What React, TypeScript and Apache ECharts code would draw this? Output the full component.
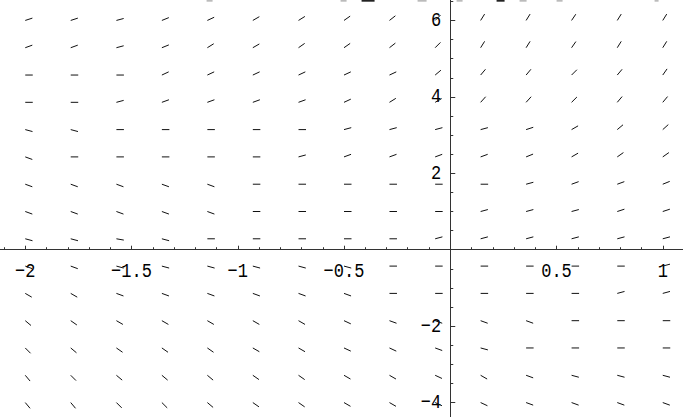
import React, { useEffect, useRef } from "react";
import * as echarts from "echarts";

// grid of sample points (x columns, y rows)
const xColumns = [-2, -1.786, -1.571, -1.357, -1.143, -0.929, -0.714, -0.5, -0.286, -0.071, 0.143, 0.357, 0.571, 0.786, 1];
const yRows = [6, 5.286, 4.571, 3.857, 3.143, 2.429, 1.714, 1, 0.286, -0.429, -1.143, -1.857, -2.571, -3.286, -4];

// on-screen direction (degrees) of each segment, read row by row (top row first)
const anglesRow0 = [18, 18, 15, 22, 25, 30, 32, 35, 38, 45, 58, 58, 56, 58, 58];
const anglesRow1 = [20, 20, 15, 22, 32, 30, 35, 35, 38, 45, 58, 58, 55, 58, 58];
const anglesRow2 = [0, 0, 0, 25, 25, 25, 25, 25, 25, 40, 50, 50, 45, 50, 55];
const anglesRow3 = [0, 0, 15, 20, 20, 20, 20, 25, 32, 30, 48, 48, 45, 50, 50];
const anglesRow4 = [-15, -15, 0, 0, 0, 0, 0, 15, 15, 15, 15, 18, 30, 40, 42];
const anglesRow5 = [-20, 0, 0, 0, 0, 0, 15, 20, 20, 20, 20, 22, 30, 35, 35];
const anglesRow6 = [-20, -20, -20, -20, -20, 0, 0, 0, 0, 0, 0, 15, 20, 20, 22];
const anglesRow7 = [-20, -20, -20, -20, -20, 0, 0, 0, 0, 0, 15, 15, 15, 18, 18];
const anglesRow8 = [-15, -15, -10, -15, 0, 0, 0, 0, 0, 15, 15, 15, 15, 15, 15];
const anglesRow9 = [-20, -20, -15, -15, -15, -15, -15, -15, 0, 0, 0, 0, 0, 0, 15];
const anglesRow10 = [-30, -30, -20, -20, -20, -20, -20, -20, 0, 0, 0, 0, 0, 15, 15];
const anglesRow11 = [-40, -35, -30, -30, -30, -30, -30, -25, -20, -20, -20, -20, 0, 0, 0];
const anglesRow12 = [-45, -40, -35, -35, -35, -30, -30, -25, -25, -20, -15, 0, 0, 0, 0];
const anglesRow13 = [-50, -45, -40, -40, -40, -35, -35, -30, -30, -25, -30, -20, -15, -15, -15];
const anglesRow14 = [-50, -50, -45, -45, -40, -35, -35, -30, -30, -25, -25, -20, -20, -20, -20];

const angleRows = [
  anglesRow0, anglesRow1, anglesRow2, anglesRow3, anglesRow4, anglesRow5, anglesRow6, anglesRow7,
  anglesRow8, anglesRow9, anglesRow10, anglesRow11, anglesRow12, anglesRow13, anglesRow14,
];

// tick labels
const xTickValues = [-2, -1.5, -1, -0.5, 0.5, 1];
const xTickLabels = ["\u22122", "\u22121.5", "\u22121", "\u22120.5", "0.5", "1"];
const yTickValues = [-4, -2, 2, 4, 6];
const yTickLabels = ["\u22124", "\u22122", "2", "4", "6"];

const FONT = "'Liberation Mono', 'DejaVu Sans Mono', monospace";
const SEG_LEN = 7.5;

// inner chart canvas: x range -2.5..1.5, y range -6..8, shifted so that the visible window matches
const INNER_LEFT = -80.57;
const INNER_TOP = -55.7;
const INNER_W = 850.12;
const INNER_H = 534.8;

export default function App() {
  const ref = useRef<HTMLDivElement>(null);

  useEffect(() => {
    if (!ref.current) return;
    const chart = echarts.init(ref.current, undefined, { renderer: "svg" });

    const fieldData: number[][] = [];
    yRows.forEach((y, r) => {
      xColumns.forEach((x, c) => {
        fieldData.push([x, y, angleRows[r][c]]);
      });
    });

    const xLabelData = xTickValues.map((v, i) => ({ value: [v, 0], label: xTickLabels[i] }));
    const yLabelData = yTickValues.map((v, i) => ({ value: [0, v], label: yTickLabels[i] }));

    const topBits = [
      [207, 6, "#bbb"], [341, 6, "#bbb"], [362, 13, "#222"], [418, 9, "#bbb"],
      [457, 6, "#bbb"], [497, 8, "#222"], [520, 7, "#bbb"], [557, 6, "#bbb"], [655, 4, "#bbb"],
    ];

    chart.setOption({
      animation: false,
      backgroundColor: "#fff",
      grid: { left: 0, right: 0, top: 0, bottom: 0, containLabel: false },
      xAxis: {
        type: "value",
        min: -2.5,
        max: 1.5,
        interval: 0.5,
        splitLine: { show: false },
        axisLine: { show: true, onZero: true, lineStyle: { color: "#333", width: 1 } },
        axisTick: { show: true, inside: true, length: 4, lineStyle: { color: "#333" } },
        minorTick: { show: true, splitNumber: 5, length: 2.5, lineStyle: { color: "#333" } },
        axisLabel: { show: false },
      },
      yAxis: {
        type: "value",
        min: -6,
        max: 8,
        interval: 2,
        splitLine: { show: false },
        axisLine: { show: true, onZero: true, lineStyle: { color: "#333", width: 1 } },
        axisTick: { show: true, inside: true, length: 5, lineStyle: { color: "#333" } },
        minorTick: { show: true, splitNumber: 4, length: 3, lineStyle: { color: "#333" } },
        axisLabel: { show: false },
      },
      graphic: topBits.map((b) => ({
        type: "rect",
        shape: { x: (b[0] as number) - INNER_LEFT, y: -INNER_TOP, width: b[1] as number, height: 2 },
        style: { fill: b[2] as string },
        silent: true,
      })),
      series: [
        {
          type: "custom",
          data: fieldData,
          z: 5,
          renderItem: (params: any, api: any) => {
            const p = api.coord([api.value(0), api.value(1)]);
            const a = (api.value(2) * Math.PI) / 180;
            return {
              type: "line",
              shape: {
                x1: p[0],
                y1: p[1],
                x2: p[0] + SEG_LEN * Math.cos(a),
                y2: p[1] - SEG_LEN * Math.sin(a),
              },
              style: { stroke: "#111", lineWidth: 1 },
            };
          },
        },
        {
          type: "custom",
          data: xLabelData,
          z: 4,
          renderItem: (params: any, api: any) => {
            const p = api.coord([api.value(0), api.value(1)]);
            return {
              type: "text",
              x: p[0],
              y: p[1] + 11,
              scaleY: 1.22,
              style: {
                text: xLabelData[params.dataIndex].label,
                fill: "#000",
                font: "17px " + FONT,
                textAlign: "center",
                textVerticalAlign: "top",
              },
            };
          },
        },
        {
          type: "custom",
          data: yLabelData,
          z: 4,
          renderItem: (params: any, api: any) => {
            const p = api.coord([api.value(0), api.value(1)]);
            return {
              type: "text",
              x: p[0] - 9,
              y: p[1],
              scaleY: 1.22,
              style: {
                text: yLabelData[params.dataIndex].label,
                fill: "#000",
                font: "17px " + FONT,
                textAlign: "right",
                textVerticalAlign: "middle",
              },
            };
          },
        },
      ],
    });

    return () => chart.dispose();
  }, []);

  return (
    <div style={{ position: "absolute", left: 0, top: 0, width: 683, height: 417, overflow: "hidden", background: "#fff" }}>
      <div
        ref={ref}
        style={{ position: "absolute", left: INNER_LEFT, top: INNER_TOP, width: INNER_W, height: INNER_H }}
      />
    </div>
  );
}
